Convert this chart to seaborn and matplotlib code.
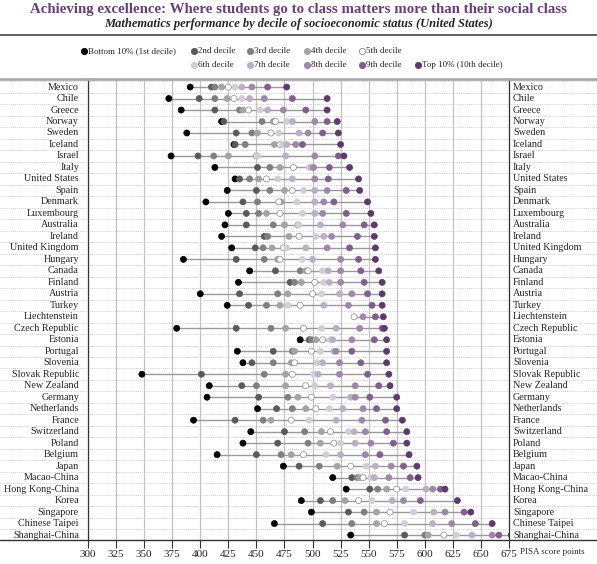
import numpy as np
import pandas as pd
import matplotlib
matplotlib.use("Agg")
import matplotlib.pyplot as plt
from matplotlib.lines import Line2D
import seaborn as sns

nan = np.nan

# countries, top to bottom
countries = ["Mexico", "Chile", "Greece", "Norway", "Sweden", "Iceland", "Israel", "Italy",
             "United States", "Spain", "Denmark", "Luxembourg", "Australia", "Ireland",
             "United Kingdom", "Hungary", "Canada", "Finland", "Austria", "Turkey",
             "Liechtenstein", "Czech Republic", "Estonia", "Portugal", "Slovenia",
             "Slovak Republic", "New Zealand", "Germany", "Netherlands", "France",
             "Switzerland", "Poland", "Belgium", "Japan", "Macao-China", "Hong Kong-China",
             "Korea", "Singapore", "Chinese Taipei", "Shanghai-China"]

# mean maths score per decile of socioeconomic status
d1 = [391, 372, 383, 419, 388, 430, 374, 413, 431, 424, 405, 425, 422, 419, 428, 385, 444, 434, 400, 424,
      nan, 379, 489, 433, 438, 348, 408, 406, 451, 394, 445, 438, 415, 474, 518, 530, 490, 499, 466, 534]
d2 = [410, 399, 413, 421, 432, 431, 398, 451, 435, 450, 438, 441, 441, 457, 449, 432, 467, 480, 435, 443,
      nan, 432, 497, 465, 446, 401, 437, 452, 468, 431, 475, 469, 450, 488, 535, 551, 507, 532, 509, 582]
d3 = [413, 413, 435, 455, 446, 440, 412, 462, 444, 462, 451, 452, 465, 460, 456, 457, 489, 484, 469, 459,
      nan, 463, 499, 482, 465, 457, 450, 478, 482, 456, 493, 496, 472, 506, 540, 558, 518, 546, 535, 600]
d4 = [419, 424, 438, 465, 451, 466, 425, 471, 452, 475, 472, 459, 475, 479, 464, 469, 494, 490, 478, 471,
      nan, 476, 503, 484, 481, 476, 476, 487, 494, 463, 508, 507, 481, 522, 542, 566, 529, 557, 557, 603]
d5 = [425, 430, 443, 467, 463, 471, 450, 483, 459, 482, 470, 471, 487, 488, 474, 471, 496, 502, 500, 489,
      537, 492, 509, 499, 484, 482, 494, 499, 503, 481, 516, 519, 492, 534, 545, 575, 541, 569, 564, 617]
d6 = [431, 437, 453, 477, 470, 473, 451, 497, 469, 492, 486, 491, 488, 503, 477, 491, 509, 510, 508, 478,
      nan, 508, 516, 507, 504, 501, 502, 518, 515, 497, 532, 525, 512, 548, 552, 583, 553, 590, 582, 628]
d7 = [437, 444, 460, 482, 488, 477, 476, 499, 482, 502, 502, 502, 507, 510, 494, 500, 514, 515, 524, 510,
      nan, 521, 518, 519, 509, 505, 516, 534, 527, 521, 537, 538, 525, 556, 555, 601, 571, 608, 607, 642]
d8 = [446, 457, 474, 502, 496, 485, 502, 501, 502, 513, 510, 509, 527, 517, 513, 525, 525, 525, 535, 532,
      545, 542, 535, 521, 524, 524, 538, 538, 545, 544, 547, 552, 547, 570, 568, 607, 581, 618, 624, 660]
d9 = [460, 482, 494, 513, 509, 491, 523, 515, 514, 530, 519, 530, 546, 540, 533, 541, 543, 546, 549, 553,
      556, 562, 555, 535, 543, 549, 559, 551, 557, 565, 566, 572, 560, 581, 587, 614, 596, 635, 645, 666]
d10 = [477, 513, 513, 522, 523, 525, 528, 533, 541, 542, 549, 552, 555, 555, 556, 556, 559, 562, 562, 562,
       563, 564, 566, 566, 566, 568, 569, 575, 575, 580, 584, 584, 586, 593, 594, 618, 629, 641, 660, 677]

decile_names = ["Bottom 10% (1st decile)", "2nd decile", "3rd decile", "4th decile", "5th decile",
                "6th decile", "7th decile", "8th decile", "9th decile", "Top 10% (10th decile)"]
colors = ["#000000", "#5a5a5a", "#7f7f7f", "#a4a4a4", "#ffffff",
          "#d2cdd6", "#bab0c3", "#9d88a9", "#7f5f8d", "#5d3a6b"]
xticks = list(range(300, 676, 25))

sns.set_theme(style="white")
plt.rcParams["font.family"] = ["Liberation Serif", "DejaVu Serif"]

df = pd.DataFrame({"country": countries, "d1": d1, "d2": d2, "d3": d3, "d4": d4, "d5": d5,
                   "d6": d6, "d7": d7, "d8": d8, "d9": d9, "d10": d10})
df["row"] = np.arange(len(countries))
long = df.melt(id_vars=["country", "row"], var_name="col", value_name="score").dropna()
long["decile"] = long["col"].map(dict(zip(df.columns[1:11], decile_names)))

W, H = 597, 564
fig = plt.figure(figsize=(W / 100, H / 100), dpi=100)
ax = fig.add_axes([88 / W, 1 - 540 / H, 421 / W, 461 / H])

# range line per country
scores = df[["d1", "d2", "d3", "d4", "d5", "d6", "d7", "d8", "d9", "d10"]]
ax.hlines(df["row"], scores.min(axis=1), scores.max(axis=1), color="#9a9a9a", lw=1, zorder=2)

sns.scatterplot(data=long, x="score", y="row", hue="decile", hue_order=decile_names,
                palette=colors, s=19, linewidth=0.5, legend=False, ax=ax, zorder=3)
pts = ax.collections[-1]
edge = ["#8a8a8a" if d == decile_names[4] else colors[decile_names.index(d)] for d in long["decile"]]
pts.set_edgecolors(edge)

ax.set_xlim(300, 675)
ax.set_ylim(39.43, -0.7)
ax.set_xticks(xticks)
ax.set_xticklabels([str(t) for t in xticks], fontsize=8)
ax.set_yticks([])
ax.set_xlabel("")
ax.set_ylabel("")
ax.grid(axis="x", color="#c2c2c2", lw=0.9, zorder=0)
ax.tick_params(axis="x", bottom=True, length=6, width=0.8, color="#333333", pad=1.5)
for s in ["top", "bottom"]:
    ax.spines[s].set_visible(False)
for s in ["left", "right"]:
    ax.spines[s].set_color("#333333")
    ax.spines[s].set_linewidth(0.9)

# dotted row separators running across the whole width
for i in range(len(countries)):
    ax.axhline(i - 0.5, xmin=-0.21, xmax=1.21, clip_on=False, color="#bdbdbd",
               lw=0.6, ls=(0, (1, 1.5)), zorder=0)

trans = ax.get_yaxis_transform()
for i, c in enumerate(countries):
    ax.text(-9 / 421, i, c, transform=trans, ha="right", va="center", fontsize=7.3)
    ax.text(1 + 4 / 421, i, c, transform=trans, ha="left", va="center", fontsize=7.3)

# label for the highest score
top = d10[-1]
ax.annotate(str(top), xy=(top, len(countries) - 1), xytext=(657, 36.25),
            ha="center", va="center", fontsize=6,
            arrowprops=dict(arrowstyle="-", color="#555555", lw=0.6, shrinkA=3, shrinkB=2))

fig.text(520 / W, 1 - 552 / H, "PISA score points", fontsize=6.5, va="center")

# frame lines
fig.add_artist(Line2D([0, 1], [1 - 35 / H] * 2, color="#444444", lw=1.2))
fig.add_artist(Line2D([0, 1], [1 - 79 / H] * 2, color="#ababab", lw=2))
fig.add_artist(Line2D([0, 1], [1 - 540 / H] * 2, color="#333333", lw=1))

fig.text(0.5, 1 - 9 / H, "Achieving excellence: Where students go to class matters more than their social class",
         ha="center", va="center", fontsize=10.7, weight="bold", color="#6a3d7c")
fig.text(0.5, 1 - 24 / H, "Mathematics performance by decile of socioeconomic status (United States)",
         ha="center", va="center", fontsize=9, style="italic", weight="bold")

# legend, two rows
leg_pos = [(84, 51), (194, 51), (250, 51), (307, 51), (362, 51),
           (194, 65), (250, 65), (307, 65), (362, 65), (418, 65)]
for (px, py), name, col in zip(leg_pos, decile_names, colors):
    ec = "#8a8a8a" if col == "#ffffff" else col
    fig.add_artist(Line2D([px / W], [1 - py / H], marker="o", ms=4.5, color=col, mec=ec, mew=0.6, ls=""))
    fig.text((px + 4) / W, 1 - py / H, name, fontsize=6.5, va="center")

fig.savefig("out.png", dpi=100)
